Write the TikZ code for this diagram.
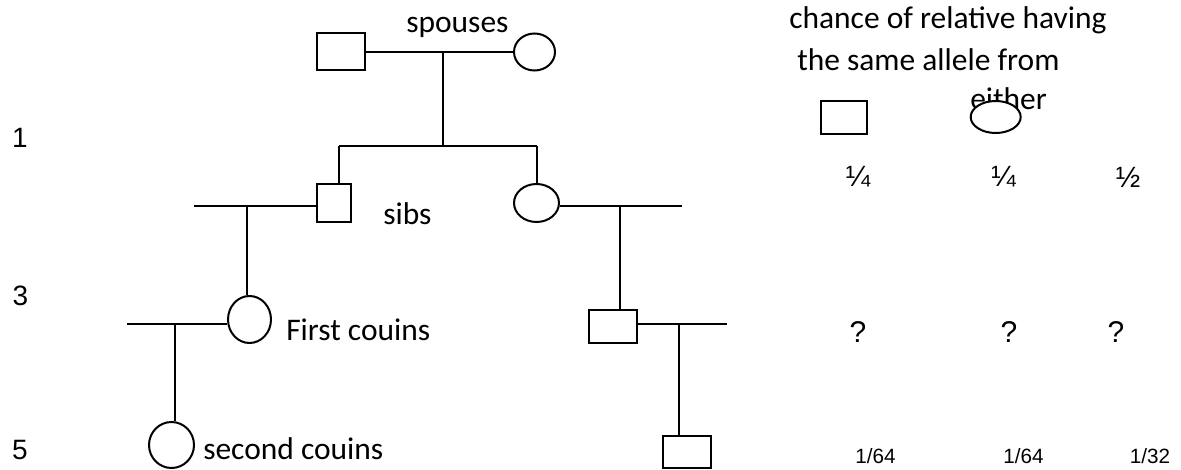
\documentclass[tikz,border=0pt]{standalone}
\usepackage{fontspec}
\setmainfont{Carlito}
\newfontfamily\arial{Liberation Sans}
\usetikzlibrary{shapes.geometric}
\tikzset{
  px/.style={x=0.75pt,y=-0.75pt},
  ln/.style={line width=1.5pt},
  sq/.style={draw,line width=1.5pt,rectangle,inner sep=0pt,fill=white},
  ov/.style={draw,line width=1.5pt,ellipse,inner sep=0pt,fill=white},
  lbl/.style={inner sep=0pt,anchor=base west,font=\fontsize{23.6}{28}\selectfont},
  num/.style={inner sep=0pt,font=\arial\fontsize{21}{24}\selectfont},
  qm/.style={inner sep=0pt,font=\arial\fontsize{22.5}{26}\selectfont},
  frac/.style={inner sep=0pt,font=\arial\fontsize{22}{26}\selectfont},
  small/.style={inner sep=0pt,font=\arial\fontsize{15.5}{18}\selectfont}
}
\begin{document}
\begin{tikzpicture}[px]
\useasboundingbox (0,0) rectangle (1181,470);
% generation 1
\node[sq,minimum width={48*0.75pt},minimum height={37*0.75pt}] (A) at (341,52) {};
\node[ov,minimum width={41*0.75pt},minimum height={37*0.75pt}] (B) at (534.5,52) {};
\coordinate (m1) at (443,52);
\coordinate (j1) at (443,146);
\coordinate (c2L) at (339,146);
\coordinate (c2R) at (536.5,146);
% generation 2
\node[sq,minimum width={34*0.75pt},minimum height={38*0.75pt}] (C) at (334,203) {};
\node[ov,minimum width={45*0.75pt},minimum height={38*0.75pt}] (D) at (536.5,203) {};
\coordinate (L2) at (194,206);
\coordinate (v2L) at (247,206);
\coordinate (R2) at (682,206);
\coordinate (v2R) at (620,206);
% generation 3
\node[ov,minimum width={43*0.75pt},minimum height={47*0.75pt}] (E) at (249.5,319.5) {};
\node[sq,minimum width={48*0.75pt},minimum height={33*0.75pt}] (F) at (613,326.5) {};
\coordinate (L3) at (127,324);
\coordinate (v3L) at (175,324);
\coordinate (R3) at (727,324);
\coordinate (v3R) at (679,324);
% generation 4
\node[ov,minimum width={45*0.75pt},minimum height={46*0.75pt}] (G) at (171.5,445) {};
\node[sq,minimum width={48*0.75pt},minimum height={32*0.75pt}] (H) at (687,452) {};
% connectors
\draw[ln] (A) -- (B);
\draw[ln] (m1) -- (j1);
\draw[ln] (c2L) -- (c2R);
\draw[ln] (c2L) -- (c2L |- C.north);
\draw[ln] (c2R) -- (D.north);
\draw[ln] (L2) -- (L2 -| C.west);
\draw[ln] (v2L) -- (v2L |- E.north);
\draw[ln] (D.east |- R2) -- (R2);
\draw[ln] (v2R) -- (v2R |- F.north);
\draw[ln] (L3) -- (L3 -| E.west);
\draw[ln] (v3L) -- (v3L |- G.north);
\draw[ln] (F.east |- R3) -- (R3);
\draw[ln] (v3R) -- (v3R |- H.north);
% labels
\node[lbl] (tsp) at (406,32.7) {spouses};
\node[lbl] (tsib) at (383,225) {sibs};
\node[lbl] (tfc) at (286,340.7) {First couins};
\node[lbl] (tsc) at (203,459) {second couins};
\node[num] (n1) at (20,138) {1};
\node[num] (n3) at (20.5,295.5) {3};
\node[num] (n5) at (20,450) {5};
% legend
\node[lbl] (h1) at (789,29) {chance of relative having};
\node[lbl] (h2) at (797,71) {the same allele from};
\node[lbl] (h3) at (970,110) {either};
\node[sq,minimum width={46*0.75pt},minimum height={33*0.75pt}] (LS) at (844,118) {};
\node[ov,minimum width={50*0.75pt},minimum height={32*0.75pt}] (LE) at (995.7,117) {};
\node[frac] (f1) at (858,177) {¼};
\node[frac] (f2) at (1003.5,177) {¼};
\node[frac] (f3) at (1128,177) {½};
\node[qm] (q1) at (858,332) {?};
\node[qm] (q2) at (1009,332) {?};
\node[qm] (q3) at (1116,332) {?};
\node[small] (s1) at (875.5,456) {1/64};
\node[small] (s2) at (1023.5,456) {1/64};
\node[small] (s3) at (1150,456) {1/32};
\end{tikzpicture}
\end{document}
